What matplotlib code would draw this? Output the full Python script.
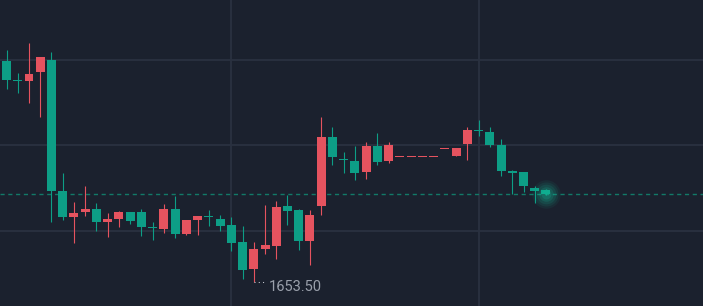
import numpy as np
import matplotlib
matplotlib.use("Agg")
import matplotlib.pyplot as plt

# OHLC (price, one candle per bar)
opens = [1659.97, 1659.42, 1659.39, 1659.64, 1660.00, 1656.17, 1655.40, 1655.55,
         1655.65, 1655.25, 1655.36, 1655.55, 1655.55, 1655.11, 1655.07, 1655.65,
         1654.92, 1655.32, 1655.43, 1655.36, 1655.18, 1654.67, 1653.90, 1654.48,
         1654.56, 1655.73, 1655.61, 1654.71, 1655.73, 1657.74, 1657.10, 1657.05,
         1656.72, 1657.49, 1657.05, 1657.17, 1657.17, 1657.17, 1657.17, 1657.40,
         1657.19, 1657.55, 1657.94, 1657.89, 1657.51, 1656.75, 1656.72, 1656.27,
         1656.20]
highs = [1660.29, 1659.61, 1660.49, 1660.10, 1660.23, 1656.69, 1655.84, 1656.32,
         1655.81, 1655.52, 1655.58, 1655.56, 1655.65, 1655.26, 1655.80, 1656.02,
         1655.32, 1655.43, 1655.61, 1655.47, 1655.40, 1655.15, 1654.67, 1655.76,
         1655.88, 1656.06, 1655.65, 1655.61, 1658.32, 1658.04, 1657.30, 1657.49,
         1657.59, 1657.86, 1657.59, 1657.17, 1657.17, 1657.17, 1657.17, 1657.40,
         1657.42, 1658.03, 1658.25, 1658.03, 1657.70, 1656.78, 1656.73, 1656.32,
         1656.23]
lows = [1659.16, 1659.03, 1658.73, 1658.32, 1655.25, 1655.32, 1654.64, 1655.45,
        1655.00, 1654.82, 1655.11, 1655.21, 1654.85, 1654.74, 1654.95, 1654.80,
        1654.88, 1654.88, 1655.14, 1654.99, 1654.42, 1653.61, 1653.50, 1654.34,
        1654.19, 1655.18, 1654.44, 1654.01, 1655.47, 1656.93, 1656.70, 1656.49,
        1656.53, 1656.94, 1657.00, 1657.17, 1657.17, 1657.17, 1657.17, 1657.40,
        1657.19, 1657.08, 1657.78, 1657.45, 1656.61, 1656.07, 1656.13, 1655.83,
        1656.05]
closes = [1659.42, 1659.39, 1659.60, 1660.08, 1656.17, 1655.40, 1655.52, 1655.65,
          1655.25, 1655.36, 1655.55, 1655.30, 1655.11, 1655.09, 1655.65, 1654.92,
          1655.32, 1655.43, 1655.41, 1655.14, 1654.66, 1653.86, 1654.48, 1654.59,
          1655.69, 1655.58, 1654.71, 1655.47, 1657.74, 1657.15, 1657.08, 1656.69,
          1657.49, 1657.01, 1657.51, 1657.17, 1657.17, 1657.17, 1657.17, 1657.40,
          1657.42, 1657.95, 1657.92, 1657.51, 1656.75, 1656.69, 1656.32, 1656.17,
          1656.08]

price_grid = [1655.0, 1657.5, 1660.0]
time_grid = [20, 42]

BG = "#1b212e"
GRID = "#2a3140"
UP = "#e5535f"     # red = close >= open
DOWN = "#0d9e86"   # green = close < open
TEXT = "#9aa0ab"

fig = plt.figure(figsize=(7.03, 3.06), dpi=100, facecolor=BG)
ax = fig.add_axes([0, 0, 1, 1])
ax.set_facecolor(BG)
ax.set_xlim(-0.58, 61.97)
ax.set_ylim(1652.807, 1661.754)
for s in ax.spines.values():
    s.set_visible(False)
ax.set_xticks([])
ax.set_yticks([])

for g in price_grid:
    ax.axhline(g, color=GRID, lw=1.3, zorder=0)
for g in time_grid:
    ax.axvline(g, color=GRID, lw=1.3, zorder=0)

x = np.arange(len(opens))
o = np.array(opens)
c = np.array(closes)
h = np.array(highs)
l = np.array(lows)
cols = [UP if cc >= oo else DOWN for oo, cc in zip(o, c)]

# one pixel in price units, so flat candles still show
px = (1661.754 - 1652.807) / 306
bottom = np.minimum(o, c)
height = np.maximum(np.abs(c - o), px)

ax.vlines(x, l, h, colors=cols, lw=0.8, zorder=2)
ax.bar(x, height, width=0.8, bottom=bottom, color=cols, linewidth=0, zorder=3)

# last price line
last = closes[-1]
ax.axhline(last, color="#127a68", lw=1.0, dashes=(3, 2.6), zorder=1)

# glow on the last candle
for s, a in [(420, 0.07), (300, 0.09), (200, 0.12), (110, 0.16), (50, 0.2)]:
    ax.scatter([x[-1]], [last], s=s, color="#14c09d", alpha=a,
               linewidths=0, zorder=4)

# lowest low marker
imin = int(np.argmin(l))
ax.plot([imin, imin + 1.1], [l[imin], l[imin]], color="#c8ccd4", lw=0.75,
        ls=(0, (1, 3.1)), zorder=5)
ax.annotate("{:.2f}".format(l[imin]), xy=(imin, l[imin]), xytext=(15, 2),
            textcoords="offset pixels", ha="left", va="top",
            color=TEXT, fontsize=10.5, family="Roboto", zorder=5)

fig.savefig("out.png", dpi=100, facecolor=BG)
